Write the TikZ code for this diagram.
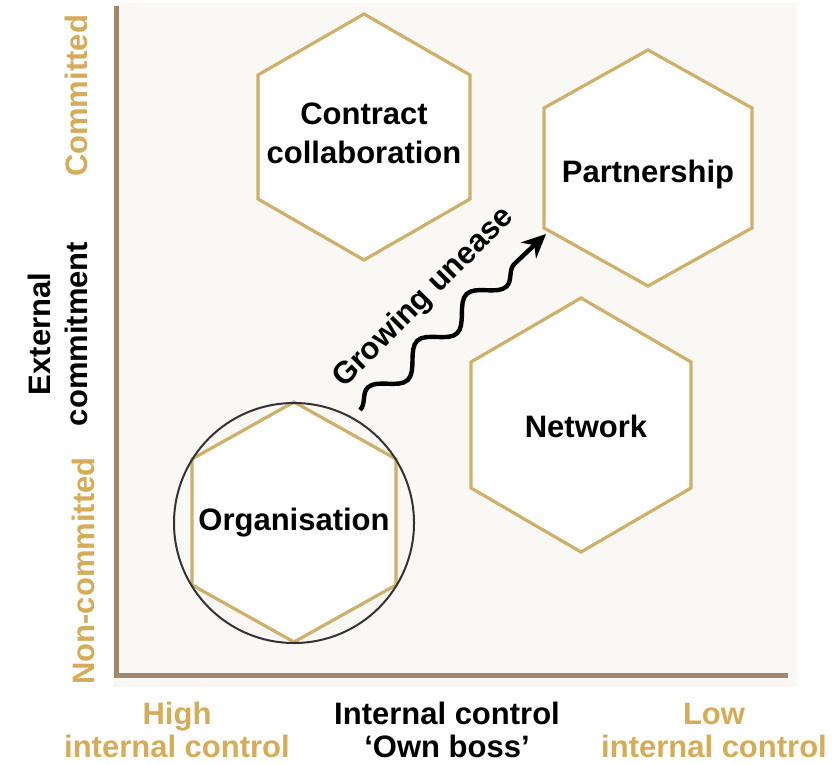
\documentclass[tikz,border=0pt]{standalone}
\usepackage{fontspec}
\setmainfont{Liberation Sans}
\usetikzlibrary{arrows.meta, decorations.pathmorphing}
\definecolor{gold}{HTML}{D4AC5A}
\definecolor{hexgold}{HTML}{CFB06A}
\definecolor{axisbrown}{HTML}{A08868}
\definecolor{panel}{HTML}{FAF8F5}

% #1 centre x, #2 centre y, #3 half width, #4 half height, #5 shoulder
\newcommand{\hexcell}[5]{%
  \filldraw[hexline] (#1, #2-#4) -- (#1+#3, #2-#5) -- (#1+#3, #2+#5)
    -- (#1, #2+#4) -- (#1-#3, #2+#5) -- (#1-#3, #2-#5) -- cycle;}

\begin{document}
\begin{tikzpicture}[x=0.5pt, y=-0.5pt,
    hexline/.style={draw=hexgold, line width=1.6pt, fill=white, line join=miter},
    celllabel/.style={font=\fontsize{15.5}{19.5}\selectfont\bfseries, align=center},
    axislabel/.style={font=\fontsize{15.5}{16.5}\selectfont\bfseries, align=center},
    wave/.style={line width=2.2pt, -{Stealth[length=12pt, width=11pt]},
        decorate, decoration={snake, amplitude=5.5pt, segment length=34pt, post length=10pt}}]
    \useasboundingbox (0, 0) rectangle (838, 764);
    \fill[panel] (113, 3) rectangle (797, 687);
    \draw[axisbrown, line width=2.5pt] (116, 6) -- (116, 675) -- (788, 675);
    % cells
    \hexcell{364}{137}{106}{123}{62}
    \hexcell{648}{168}{104}{118}{60}
    \hexcell{581}{425}{110}{127}{63}
    \hexcell{294}{522}{102}{120}{63}
    \draw[black!80, line width=1pt] (294, 523) circle (120);
    \node[celllabel] (contract) at (364, 133) {Contract\\collaboration};
    \node[celllabel] (partner) at (648, 174) {Partnership};
    \node[celllabel] (network) at (586, 426) {Network};
    \node[celllabel] (organ) at (294, 523) {Organisation};
    % growing unease
    \coordinate (uneaseStart) at (360, 410);
    \coordinate (uneaseEnd) at (546, 234);
    \draw[wave] (uneaseStart) -- (uneaseEnd);
    \node[celllabel, rotate=45] (unease) at (424, 298) {Growing unease};
    % axis labels
    \node[axislabel, text=gold, rotate=90] (commit) at (76, 96) {Committed};
    \node[axislabel, text=gold, rotate=90] (noncommit) at (83, 571) {Non-committed};
    \node[axislabel, rotate=90, font=\fontsize{15.5}{18.5}\selectfont\bfseries] (extern) at (58, 334) {External\\commitment};
    \node[axislabel, text=gold] (high) at (177, 730) {High\\internal control};
    \node[axislabel] (intern) at (447, 730) {Internal control\\‘Own boss’};
    \node[axislabel, text=gold] (low) at (714, 730) {Low\\internal control};
\end{tikzpicture}
\end{document}
